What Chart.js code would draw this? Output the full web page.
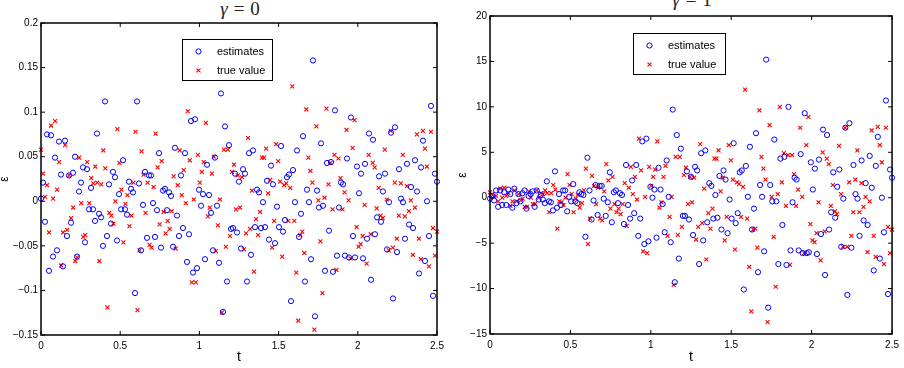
<!DOCTYPE html>
<html>
<head>
<meta charset="utf-8">
<script src="https://cdn.jsdelivr.net/npm/chart.js@4"></script>
<style>
  html, body { margin: 0; padding: 0; background: #fff; }
  body { width: 904px; height: 368px; position: relative; overflow: hidden; }
  canvas { position: absolute; top: 0; }
  #c0 { left: 0; }
  #c1 { left: 452px; }
  .ttl { position: absolute; font-family: 'Liberation Serif', serif; font-size: 19px; line-height: 19px; transform: translateX(-50%); white-space: nowrap; color: #222; }
  .ttl .eq { margin: 0 6px; }
</style>
</head>
<body>
<div class="ttl" style="left:240px; top:-1px"><i>γ</i><span class="eq">=</span>0</div>
<div class="ttl" style="left:692px; top:-10px"><i>γ</i><span class="eq">=</span>1</div>
<canvas id="c0" width="452" height="368"></canvas>
<canvas id="c1" width="452" height="368"></canvas>
<script>
const T_END = 2.5

// gamma = 0 : estimates (blue o) and true value (red x), evenly sampled over t
const est0 = [
  0.003, 0.021, -0.023, 0.075, -0.078, 0.074, -0.062, 0.049, -0.055, 0.067,
  0.030, -0.073, 0.068, -0.039, 0.029, -0.024, 0.032, 0.050, -0.062, 0.011,
  0.021, 0.038, -0.046, 0.036, -0.009, 0.015, -0.009, -0.022, 0.076, -0.014,
  -0.018, -0.050, 0.112, -0.039, 0.019, -0.025, 0.033, 0.027, -0.044, 0.008,
  -0.009, 0.046, -0.009, -0.015, 0.022, 0.014, 0.010, -0.103, 0.112, 0.020,
  -0.055, -0.004, 0.033, -0.041, 0.029, 0.029, -0.002, -0.040, -0.010, 0.054,
  -0.052, 0.012, 0.014, -0.010, 0.010, 0.006, -0.051, 0.060, -0.016, -0.039,
  0.029, -0.030, 0.054, -0.068, -0.037, 0.090, -0.080, 0.092, -0.075, 0.013,
  -0.005, 0.008, -0.065, 0.041, 0.007, -0.013, -0.055, 0.049, -0.005, -0.069,
  0.121, -0.124, 0.084, -0.090, 0.063, -0.031, -0.030, 0.031, -0.035, 0.022,
  -0.053, 0.036, 0.031, -0.090, 0.054, -0.060, 0.057, -0.029, 0.013, 0.010,
  -0.030, -0.001, -0.029, 0.023, -0.043, 0.040, 0.019, -0.047, -0.006, -0.029,
  0.062, -0.034, -0.021, 0.027, 0.030, -0.112, 0.035, -0.001, 0.057, -0.040,
  -0.014, 0.073, -0.090, 0.013, -0.001,
  -0.065, 0.158, -0.129, 0.012, -0.007, 0.065, -0.005, -0.078, 0.043, -0.033,
  0.044, -0.079, 0.102, -0.061, -0.007, 0.021, 0.019, -0.061, 0.048, -0.063,
  0.094, -0.039, -0.063, 0.039, 0.009, 0.031, -0.064, 0.042, -0.042, 0.076,
  -0.088, 0.069, -0.037, -0.018, 0.028, -0.023, 0.011, 0.031, -0.054, -0.001,
  0.077, -0.109, 0.083, -0.057, 0.036, 0.003, -0.001, -0.042, 0.042, -0.026,
  0.016, -0.030, 0.046, 0.011, -0.081, 0.038, 0.068, -0.067, 0.000, -0.039,
  0.107, -0.106, 0.031, 0.022
]
const true0 = [
  0.058, 0.031, 0.005, 0.018, -0.035, 0.085, 0.003, 0.090, 0.013, 0.044,
  -0.072, -0.035, 0.063, -0.032, 0.029, -0.019, -0.007, -0.067, -0.063, 0.049,
  -0.002, -0.040, -0.038, 0.044, -0.002, 0.026, 0.020, 0.039, 0.021, -0.067,
  0.019, 0.057, 0.037, -0.119, -0.013, -0.016, -0.025, 0.000, 0.081, 0.043,
  0.013, -0.046, -0.003, 0.007, -0.028, -0.016, 0.021, 0.078, -0.122, -0.055,
  0.056, 0.030, -0.013, 0.021, -0.049, -0.052, 0.016, 0.076, 0.038, -0.026,
  0.045, -0.012, -0.036, -0.022, -0.031, -0.011, 0.028, -0.053, 0.018, 0.057,
  0.007, 0.035, -0.002, 0.101, 0.046, -0.091, 0.002, -0.091, 0.052, 0.021,
  0.033, 0.044, 0.088, -0.017, -0.007, 0.031, 0.050, -0.056, -0.027, 0.002,
  -0.125, 0.058, -0.051, 0.058, -0.039, 0.033, 0.041, -0.009, 0.029, -0.007,
  0.027, -0.054, -0.036, 0.071, -0.031, 0.012, -0.079, -0.020, -0.038, -0.012,
  0.049, 0.049, 0.059, 0.009, 0.024, -0.052, -0.022, 0.064, 0.045, 0.022,
  -0.062, 0.018, 0.020, -0.022, 0.015, 0.129, -0.022, -0.080, -0.134, -0.038,
  -0.034, -0.058, 0.103, 0.049, 0.034,
  0.021, -0.144, 0.084, 0.001, -0.045, -0.103, 0.004, 0.104, 0.019, 0.043,
  -0.009, 0.052, -0.077, 0.048, 0.026, -0.009, 0.010, 0.080, 0.001, -0.064,
  0.060, 0.091, -0.029, -0.051, -0.048, -0.039, -0.004, -0.070, 0.052, -0.037,
  0.043, 0.038, -0.008, 0.015, -0.016, -0.019, 0.058, 0.002, -0.055, 0.079,
  -0.052, 0.021, -0.042, -0.016, 0.020, 0.052, -0.017, 0.017, -0.011, 0.001,
  -0.060, -0.007, 0.075, -0.042, -0.065, 0.079, 0.059, 0.039, -0.073, 0.078,
  -0.030, -0.061, -0.034
]

// gamma = 1
const est1 = [
  -0.1, 0.2, -0.3, 0.8, -1.0, 0.8, -0.8, 0.6, -0.8, 0.9,
  0.4, -1.1, 1.0, -0.6, 0.4, -0.4, 0.5, 0.8, -1.2, 0.2,
  0.4, 0.7, -1.0, 0.8, -0.2, 0.3, -0.2, -0.6, 1.8, -0.4,
  -0.5, -1.4, 2.9, -1.1, 0.4, -0.8, 0.8, 0.8, -1.5, 0.1,
  -0.4, 1.5, -0.4, -0.6, 0.6, 0.4, 0.3, -4.3, 4.4, 0.8,
  -2.4, -0.3, 1.4, -1.9, 1.3, 1.3, -0.1, -2.0, -0.5, 2.8,
  -2.7, 0.6, 0.8, -0.6, 0.5, 0.3, -2.9, 3.6, -0.8, -2.3,
  1.9, -1.7, 3.6, -4.2, -2.3, 6.2, -5.1, 6.5, -4.8, 1.2,
  0.0, 0.9, -4.4, 3.3, 0.9, -0.7, -3.8, 4.1, 0.1, -4.9,
  9.7, -9.3, 6.9, -6.7, 5.4, -2.0, -2.0, 2.9, -2.4, 2.3,
  -4.1, 3.4, 3.0, -7.3, 4.9, -4.7, 5.2, -2.7, 1.6, 1.3,
  -2.3, 0.3, -2.2, 2.4, -3.5, 3.0, 2.0, -3.9, -0.2, -2.3,
  6.0, -2.8, -1.7, 2.8, 3.0, -10.1, 3.5, 0.1, 5.6, -3.5,
  -1.2, 7.1, -8.2, 1.4, 0.1, -5.9, 15.2, -12.1, 1.4, -0.4,
  6.4, -0.4, -7.3, 4.3, -3.0, 4.5, -7.4, 10.0, -5.8, -0.5,
  2.2, 2.0, -5.8, 4.8, -6.1, 9.3, -6.1, -6.0, 3.9, 0.9,
  3.2, -6.2, 4.2, -4.0, 7.5, -8.5, 6.9, -3.5, -1.6, 2.8,
  -2.2, 1.2, 3.1, -5.4, -0.1, 7.7, -10.7, 8.2, -5.5, 3.6,
  0.4, -0.1, -4.2, 4.1, -2.5, 1.6, -3.0, 4.6, 1.1, -8.0,
  3.5, 6.7, -6.7, 0.0, -3.8, 10.7, -10.6, 3.1, 2.2
]
const true1 = [
  0.6, 0.4, 0.1, 0.2, -0.4, 1.0, 0.0, 1.1, 0.2, 0.5,
  -0.9, -0.4, 0.8, -0.4, 0.4, -0.3, -0.1, -1.0, -1.0, 0.7,
  0.0, -0.7, -0.7, 0.8, 0.0, 0.5, 0.4, 0.8, 0.5, -1.6,
  0.5, 1.4, 0.9, -3.4, -0.4, -0.5, -0.8, 0.0, 2.6, 1.4,
  0.4, -1.6, -0.1, 0.3, -1.1, -0.6, 0.8, 3.2, -5.1, -2.3,
  2.4, 1.3, -0.7, 1.1, -2.3, -2.5, 0.7, 3.7, 1.9, -1.2,
  2.3, -0.7, -1.6, -1.2, -1.8, -0.7, 1.6, -3.1, 1.1, 3.4,
  0.4, 2.3, -0.2, 6.5, 3.0, -5.9, 0.1, -6.1, 3.4, 1.3,
  2.3, 3.1, 6.2, -1.1, -0.5, 2.3, 3.5, -4.2, -2.1, 0.1,
  -9.6, 4.5, -4.1, 4.5, -3.2, 2.5, 3.3, -0.7, 2.3, -0.5,
  2.2, -4.6, -3.2, 5.9, -2.8, 1.0, -6.8, -1.7, -3.4, -1.2,
  4.3, 4.3, 5.2, 0.7, 2.2, -4.7, -2.1, 5.8, 4.1, 2.0,
  -5.7, 1.7, 1.5, -2.1, 1.2, 11.9, -2.3, -7.6, -12.5, -3.5,
  -3.4, -5.5, 9.6, 4.5, 3.2, 2.0, -13.7, 8.0, 0.1, -4.3,
  -9.8, 0.4, 10.0, 1.7, 4.9, -0.9, 4.7, -7.4, 4.7, 2.6,
  -0.9, 0.9, 7.7, 0.1, -6.1, 5.8, 8.9, -2.9, -4.7, -4.9,
  -3.9, -0.5, -6.9, 5.0, -3.7, 4.3, 3.7, -0.9, 1.4, -1.5,
  -1.8, 5.7, 0.4, -5.4, 7.7, -5.4, 1.7, -4.2, -1.6, 2.0,
  5.2, -1.6, 1.6, -1.0, 0.1, -6.0, -0.4, 7.4, -4.2, -6.5,
  7.8, 5.8, 3.9, -7.3, 7.7, -3.2, -6.1, -3.5
]

const xTicks = [0, 0.5, 1, 1.5, 2, 2.5]
const yTicks0 = [-0.15, -0.1, -0.05, 0, 0.05, 0.1, 0.15, 0.2]
const yTicks1 = [-15, -10, -5, 0, 5, 10, 15, 20]
const seriesLabels = ['estimates', 'true value']

const FONT = 'Liberation Sans, Arial, sans-serif'

// samples are evenly spaced on [0, T_END]
const tGrid = n => Array.from({ length: n }, (_, i) => i * T_END / (n - 1))
const pts = vals => { const t = tGrid(vals.length); return vals.map((v, i) => ({ x: t[i], y: v })) }
const fmt = v => String(+Number(v).toFixed(2)).replace('-', '\u2212')

function mark(ctx, ds, x, y) {
  ctx.strokeStyle = ds.borderColor
  ctx.lineWidth = ds.borderWidth
  ctx.beginPath()
  if (ds.pointStyle === 'circle') {
    ctx.arc(x, y, ds.pointRadius, 0, Math.PI * 2)
  } else {
    const d = ds.pointRadius * Math.SQRT1_2
    ctx.moveTo(x - d, y - d); ctx.lineTo(x + d, y + d)
    ctx.moveTo(x + d, y - d); ctx.lineTo(x - d, y + d)
  }
  ctx.stroke()
}

// box, inward ticks on all four sides, and boxed legend inside the axes
const frame = {
  id: 'frame',
  afterDatasetsDraw(chart, args, opts) {
    const { ctx, chartArea: a, scales: { x, y } } = chart
    ctx.save()
    ctx.strokeStyle = '#000'
    ctx.lineWidth = 1
    ctx.beginPath()
    x.ticks.forEach(t => {
      const p = x.getPixelForValue(t.value)
      ctx.moveTo(p, a.bottom); ctx.lineTo(p, a.bottom - 4)
      ctx.moveTo(p, a.top); ctx.lineTo(p, a.top + 4)
    })
    y.ticks.forEach(t => {
      const p = y.getPixelForValue(t.value)
      ctx.moveTo(a.left, p); ctx.lineTo(a.left + 4, p)
      ctx.moveTo(a.right, p); ctx.lineTo(a.right - 4, p)
    })
    ctx.stroke()
    ctx.lineWidth = 1.5
    ctx.strokeRect(a.left, a.top, a.right - a.left, a.bottom - a.top)

    const L = opts.legend
    ctx.fillStyle = '#fff'
    ctx.fillRect(L.x, L.y, L.w, L.h)
    ctx.lineWidth = 1
    ctx.strokeStyle = '#000'
    ctx.strokeRect(L.x + 0.5, L.y + 0.5, L.w, L.h)
    ctx.font = '11px ' + FONT
    ctx.textBaseline = 'middle'
    chart.data.datasets.forEach((ds, i) => {
      const ry = L.y + 12.5 + i * 19
      mark(ctx, ds, L.x + 16.5, ry)
      ctx.fillStyle = '#000'
      ctx.fillText(ds.label, L.x + 35, ry + 0.5)
    })
    ctx.restore()
  }
}

function makeChart(id, est, tru, yTicks, o) {
  return new Chart(document.getElementById(id), {
    type: 'scatter',
    data: {
      datasets: [
        { label: seriesLabels[0], data: pts(est), pointStyle: 'circle', pointRadius: 2.6, borderWidth: 1, borderColor: '#0000ff', backgroundColor: 'rgba(0,0,0,0)', clip: false },
        { label: seriesLabels[1], data: pts(tru), pointStyle: 'crossRot', pointRadius: 2.8, borderWidth: 1.1, borderColor: '#ff0000', backgroundColor: '#ff0000', clip: false }
      ]
    },
    options: {
      responsive: false,
      animation: false,
      events: [],
      layout: { padding: { left: 0, right: o.padRight, top: o.padTop, bottom: 0 } },
      plugins: { legend: { display: false }, tooltip: { enabled: false }, frame: { legend: o.legend } },
      scales: {
        x: {
          type: 'linear', min: 0, max: T_END,
          afterBuildTicks: s => { s.ticks = xTicks.map(v => ({ value: v })) },
          afterFit: s => { s.height = o.xAxisH },
          grid: { display: false, drawTicks: false },
          border: { display: false },
          ticks: { color: '#000', font: { family: FONT, size: 10 }, padding: 5, maxRotation: 0, autoSkip: false, callback: fmt },
          title: { display: true, text: 't', color: '#000', font: { family: FONT, size: 14 }, padding: { top: 0, bottom: 2 } }
        },
        y: {
          type: 'linear', min: yTicks[0], max: yTicks[yTicks.length - 1],
          afterBuildTicks: s => { s.ticks = yTicks.map(v => ({ value: v })) },
          afterFit: s => { s.width = o.yAxisW },
          grid: { display: false, drawTicks: false },
          border: { display: false },
          ticks: { color: '#000', font: { family: FONT, size: 10 }, padding: 3, autoSkip: false, callback: fmt },
          title: { display: true, text: 'ε', color: '#000', font: { family: FONT, size: 12 }, padding: { top: o.yTitlePad, bottom: 0 } }
        }
      }
    },
    plugins: [frame]
  })
}

makeChart('c0', est0, true0, yTicks0, { padTop: 23, padRight: 15, yAxisW: 41, xAxisH: 33, yTitlePad: -3, legend: { x: 182, y: 39, w: 90, h: 41 } })
makeChart('c1', est1, true1, yTicks1, { padTop: 16, padRight: 10, yAxisW: 38, xAxisH: 34, yTitlePad: 3.5, legend: { x: 181, y: 33, w: 92, h: 41 } })
</script>
</body>
</html>
